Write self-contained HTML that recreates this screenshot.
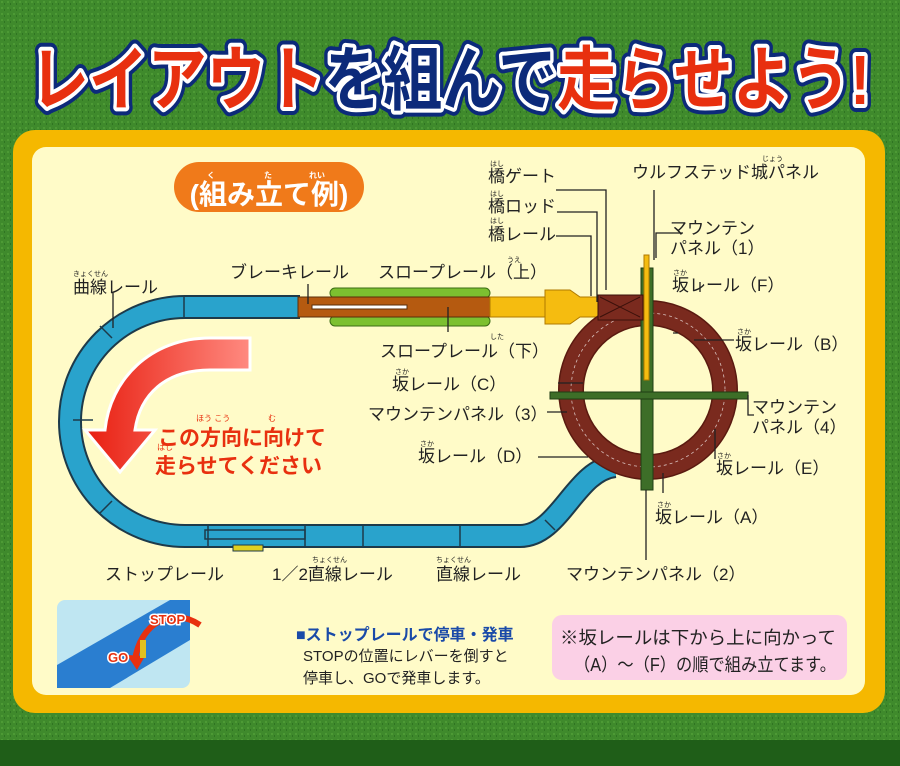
<!DOCTYPE html>
<html><head><meta charset="utf-8"><style>
html,body{margin:0;padding:0;width:900px;height:766px;overflow:hidden}
svg{display:block}
text{font-family:"Liberation Sans","Noto Sans CJK JP",sans-serif}
</style></head><body>
<svg width="900" height="766" viewBox="0 0 900 766" xmlns="http://www.w3.org/2000/svg">
<defs>
<pattern id="g" width="6" height="6" patternUnits="userSpaceOnUse">
<rect width="6" height="6" fill="#3f8a2c"/><rect x="1" y="1" width="2" height="2" fill="#4d9a35"/><rect x="4" y="3" width="1" height="2" fill="#2f7422"/>
</pattern>
<linearGradient id="ar" x1="0" y1="0" x2="1" y2="0"><stop offset="0" stop-color="#e81e10"/><stop offset="1" stop-color="#ff8a80"/></linearGradient>
</defs>
<rect width="900" height="766" fill="url(#g)"/>
<rect y="740" width="900" height="26" fill="#1f5e18"/>
<g font-weight="bold" font-size="70" stroke-linejoin="round" style="paint-order:stroke">
<text x="30" y="104" textLength="840" lengthAdjust="spacingAndGlyphs" stroke="#0c2a7a" stroke-width="16" fill="#0c2a7a">レイアウトを組んで走らせよう!</text>
<text x="30" y="104" textLength="840" lengthAdjust="spacingAndGlyphs" stroke="#fff" stroke-width="8" fill="#fff">レイアウトを組んで走らせよう!</text>
<text x="30" y="104" textLength="840" lengthAdjust="spacingAndGlyphs"><tspan fill="#e8300f">レイアウト</tspan><tspan fill="#0c2a7a">を組んで</tspan><tspan fill="#e8300f">走らせよう!</tspan></text>
</g>
<rect x="13" y="130" width="872" height="583" rx="22" fill="#f5b800"/>
<rect x="32" y="147" width="833" height="548" rx="14" fill="#fffbc8"/>
<rect x="174" y="162" width="190" height="50" rx="25" fill="#f07a1a"/>
<text x="269" y="204" font-size="28" font-weight="bold" fill="#fff" text-anchor="middle">(組み立て例)</text>
<g font-size="8" fill="#fff" font-weight="bold"><text x="207" y="178">く</text><text x="264" y="178">た</text><text x="309" y="178">れい</text></g>
<g fill="none" stroke-linecap="butt">
<path d="M300 307 H185 A115 114.5 0 0 0 185 536 H520 C560 536 575 470 615 466" stroke="#1d3a4a" stroke-width="24"/>
<path d="M300 307 H185 A115 114.5 0 0 0 185 536 H520 C560 536 575 470 615 466" stroke="#29a3cc" stroke-width="20"/>
</g>
<g stroke="#1d3a4a" stroke-width="1.5" fill="none">
<path d="M184 297v20M100 326l12 12M73 420h20M100 513l12-12M208 526v20M305 526v20M363 526v20M460 526v20M545 520l10 10"/>
<rect x="205" y="530" width="100" height="9"/>
</g>
<rect x="233" y="545" width="30" height="6" fill="#e0d020" stroke="#1d3a4a"/>
<g>
<rect x="330" y="288" width="160" height="10" rx="5" fill="#7cc030" stroke="#3b6d15"/>
<rect x="330" y="316" width="160" height="10" rx="5" fill="#7cc030" stroke="#3b6d15"/>
<rect x="298" y="297" width="192" height="20" fill="#b55a10" stroke="#5a2d0a"/>
<rect x="312" y="305" width="95" height="4" fill="#fff" stroke="#5a2d0a"/>
<rect x="490" y="297" width="110" height="20" fill="#f5bc10" stroke="#b07a00"/>
<path d="M545 290h25l10 7h20v20h-20l-10 7h-25z" fill="#f5bc10" stroke="#b07a00"/>
</g>
<ellipse cx="648" cy="390" rx="77" ry="77" fill="none" stroke="#5a1a10" stroke-width="26"/>
<ellipse cx="648" cy="390" rx="77" ry="77" fill="none" stroke="#7a2a1e" stroke-width="23"/>
<ellipse cx="648" cy="390" rx="77" ry="77" fill="none" stroke="#fff" stroke-width="0.8" stroke-dasharray="3 3" opacity=".7"/>
<g fill="#3d6e28" stroke="#1f3d14" stroke-width="1">
<rect x="641" y="268" width="12" height="222"/>
<rect x="550" y="392" width="198" height="7"/>
</g>
<rect x="644" y="255" width="5" height="125" fill="#f5bc10" stroke="#b07a00"/>
<rect x="598" y="295" width="45" height="25" fill="#7a2a1e" stroke="#3a100a"/>
<path d="M600 297l40 20M600 317l40-20" stroke="#3a100a"/>
<path d="M250 338 H210 C150 338 110 380 105 430 L85 430 L120 472 L155 430 L135 430 C140 395 165 370 210 370 H250 Z" fill="url(#ar)" stroke="#fff" stroke-width="3"/>
<g fill="#e8300f" font-weight="bold" font-size="21"><text x="158" y="445">この方向に向けて</text><text x="155" y="473">走らせてください</text></g>
<g fill="#e8300f" font-size="8"><text x="196" y="421">ほう こう</text><text x="268" y="421">む</text><text x="157" y="450">はし</text></g>
<g stroke="#222" stroke-width="1.3" fill="none">
<path d="M113 293v35M308 284v20M448 307v25M556 190h50v100M557 212h40v90M556 236h35v60M654 190v70M683 233h-27v25M678 333h-5M734 340h-40M700 292v-10M583 383h-25M547 412h20M538 457h50M748 395v20h6M715 459v-30M663 493v-20M646 490v70"/>
</g>
<g font-size="17" fill="#222">
<text x="73" y="293">曲線レール</text>
<text x="230" y="278">ブレーキレール</text>
<text x="378" y="278">スロープレール（上）</text>
<text x="380" y="357">スロープレール（下）</text>
<text x="392" y="390">坂レール（C）</text>
<text x="368" y="420">マウンテンパネル（3）</text>
<text x="418" y="462">坂レール（D）</text>
<text x="105" y="580">ストップレール</text>
<text x="272" y="580">1／2直線レール</text>
<text x="436" y="580">直線レール</text>
<text x="566" y="580">マウンテンパネル（2）</text>
<text x="488" y="182">橋ゲート</text>
<text x="488" y="212">橋ロッド</text>
<text x="488" y="240">橋レール</text>
<text x="632" y="178">ウルフステッド城パネル</text>
<text x="670" y="234">マウンテン</text>
<text x="670" y="254">パネル（1）</text>
<text x="672" y="291">坂レール（F）</text>
<text x="735" y="350">坂レール（B）</text>
<text x="752" y="413">マウンテン</text>
<text x="752" y="433">パネル（4）</text>
<text x="716" y="474">坂レール（E）</text>
<text x="655" y="523">坂レール（A）</text>
</g>
<g font-size="7" fill="#222">
<text x="73" y="276">きょくせん</text><text x="507" y="262">うえ</text><text x="490" y="339">した</text>
<text x="395" y="374">さか</text><text x="420" y="446">さか</text><text x="312" y="562">ちょくせん</text><text x="436" y="562">ちょくせん</text>
<text x="490" y="166">はし</text><text x="490" y="196">はし</text><text x="490" y="223">はし</text><text x="762" y="161">じょう</text>
<text x="673" y="275">さか</text><text x="737" y="334">さか</text><text x="717" y="458">さか</text><text x="657" y="507">さか</text>
</g>
<rect x="57" y="600" width="133" height="88" rx="8" fill="#bfe6f2"/>
<path d="M57 665 L170 600 L190 600 L190 640 L110 688 L57 688Z" fill="#2a7ed0"/>
<path d="M200 625 C170 605 140 625 135 660" fill="none" stroke="#e8300f" stroke-width="6"/>
<path d="M127 655 l10 15 l8 -14z" fill="#e8300f"/>
<text x="108" y="662" font-size="13" font-weight="bold" fill="#e8300f" stroke="#fff" stroke-width="3" style="paint-order:stroke">GO</text>
<text x="150" y="624" font-size="13" font-weight="bold" fill="#e8300f" stroke="#fff" stroke-width="3" style="paint-order:stroke">STOP</text>
<rect x="140" y="640" width="6" height="18" fill="#e0c020"/>
<text x="296" y="640" font-size="16" font-weight="bold" fill="#1a4aa8">■ストップレールで停車・発車</text>
<g font-size="15" fill="#222"><text x="303" y="661">STOPの位置にレバーを倒すと</text><text x="303" y="683">停車し、GOで発車します。</text></g>
<rect x="552" y="615" width="295" height="65" rx="10" fill="#fbd0e6"/>
<g font-size="18" fill="#222"><text x="560" y="644" textLength="276" lengthAdjust="spacingAndGlyphs">※坂レールは下から上に向かって</text><text x="574" y="671" textLength="262" lengthAdjust="spacingAndGlyphs">（A）〜（F）の順で組み立てます。</text></g>
</svg>
</body></html>
